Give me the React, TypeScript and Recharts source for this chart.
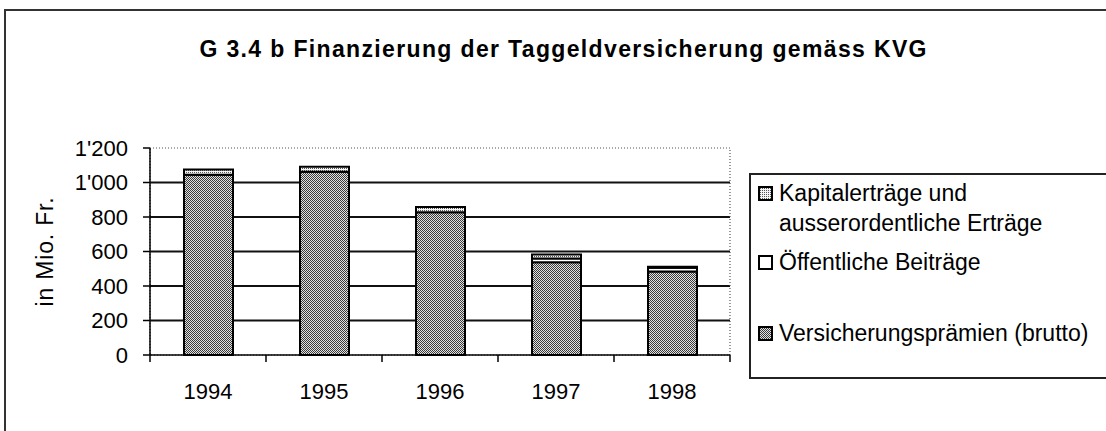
import React from 'react';
import { BarChart, Bar, XAxis, YAxis, CartesianGrid, ReferenceArea, Legend } from 'recharts';

// ---- data ----
const years = ['1994', '1995', '1996', '1997', '1998'];
const premiums = [1045, 1062, 828, 537, 484];
const publicContrib = [0, 0, 0, 22, 22];
const capitalIncome = [31, 30, 30, 24, 6];
const yTicks = [0, 200, 400, 600, 800, 1000, 1200];
const gridValues = [200, 400, 600, 800, 1000];
const nameCapital = 'Kapitalerträge und ausserordentliche Erträge';
const namePublic = 'Öffentliche Beiträge';
const namePremium = 'Versicherungsprämien (brutto)';
const titleText = 'G 3.4 b Finanzierung der Taggeldversicherung gemäss KVG';
const yLabel = 'in Mio. Fr.';

const data = years.map((y, i) => ({
  year: y,
  premium: premiums[i],
  pub: publicContrib[i],
  capital: capitalIncome[i],
}));

// ---- layout ----
const W = 1106;
const H = 431;
const PLOT_LEFT = 150;
const PLOT_RIGHT = 730;
const PLOT_TOP = 148;
const PLOT_BOTTOM = 355;
const BAND = (PLOT_RIGHT - PLOT_LEFT) / years.length;
const FONT = '"Liberation Sans", Arial, Helvetica, sans-serif';

const fmt = (v: number) =>
  v >= 1000 ? `${Math.floor(v / 1000)}'${String(v % 1000).padStart(3, '0')}` : String(v);

const XTick = (props: any) => {
  const { x, y, payload, index } = props;
  const half = BAND / 2;
  return (
    <g>
      <line x1={x - half} y1={y} x2={x - half} y2={y + 7} stroke="#000" strokeWidth={1.5} />
      {index === years.length - 1 && (
        <line x1={x + half} y1={y} x2={x + half} y2={y + 7} stroke="#000" strokeWidth={1.5} />
      )}
      <text x={x} y={y + 28} dy="0.71em" textAnchor="middle" fill="#000" fontSize={22} fontFamily={FONT}>
        {payload.value}
      </text>
    </g>
  );
};

const LegendBox = (props: any) => {
  const payload: any[] = props.payload || [];
  const byKey: Record<string, any> = {};
  payload.forEach((p) => {
    byKey[p.dataKey] = p;
  });
  const items = [
    { key: 'capital', lines: ['Kapitalerträge und', 'ausserordentliche Erträge'], top: 3 },
    { key: 'pub', lines: [namePublic], top: 72 },
    { key: 'premium', lines: [namePremium], top: 143 },
  ];
  return (
    <div
      style={{
        position: 'relative',
        width: 400,
        height: 206,
        boxSizing: 'border-box',
        borderTop: '2px solid #222',
        borderBottom: '2px solid #222',
        borderLeft: '2px solid #222',
        fontFamily: FONT,
        fontSize: 23,
        color: '#000',
        background: '#fff',
      }}
    >
      {items.map((it) => {
        const entry = byKey[it.key];
        const fill = entry ? entry.color : '#fff';
        return (
          <div key={it.key} style={{ position: 'absolute', left: 7, top: it.top, lineHeight: '30px' }}>
            <svg width={15} height={15} style={{ position: 'absolute', left: 0, top: 8 }}>
              <rect x={1} y={1} width={13} height={13} fill={fill} stroke="#000" strokeWidth={2} />
            </svg>
            <div style={{ marginLeft: 21, whiteSpace: 'nowrap' }}>
              {it.lines.map((l, i) => (
                <div key={i}>{l}</div>
              ))}
            </div>
          </div>
        );
      })}
    </div>
  );
};

export default function App() {
  return (
    <div
      style={{
        position: 'absolute',
        left: 0,
        top: 0,
        width: W,
        height: H,
        background: '#fff',
        overflow: 'hidden',
      }}
    >
      {/* frame */}
      <div
        style={{
          position: 'absolute',
          left: 4,
          top: 9,
          width: W,
          height: H,
          borderTop: '2px solid #333',
          borderLeft: '2px solid #333',
        }}
      />
      <svg width={W} height={80} style={{ position: 'absolute', left: 0, top: 0 }}>
        <text
          x={563}
          y={57}
          textAnchor="middle"
          fontFamily={FONT}
          fontWeight="bold"
          fontSize={23}
          fill="#000"
          textLength={727}
          lengthAdjust="spacing"
        >
          {titleText}
        </text>
      </svg>
      <div style={{ position: 'absolute', left: 0, top: 0 }}>
        <BarChart
          width={W}
          height={H}
          data={data}
          margin={{ top: PLOT_TOP, left: 0, right: W - PLOT_RIGHT, bottom: 0 }}
          style={{ fontFamily: FONT }}
        >
          <defs>
            <pattern id="premPat" patternUnits="userSpaceOnUse" width={2} height={2}>
              <rect x={0} y={0} width={2} height={2} fill="#e2e2e2" />
              <rect x={0} y={0} width={1} height={1} fill="#3a3a3a" />
              <rect x={1} y={1} width={1} height={1} fill="#3a3a3a" />
            </pattern>
            <pattern id="capPat" patternUnits="userSpaceOnUse" width={2} height={2}>
              <rect x={0} y={0} width={2} height={2} fill="#f4f4f4" />
              <rect x={0} y={0} width={1} height={1} fill="#555" />
            </pattern>
          </defs>
          <CartesianGrid
            horizontal={true}
            vertical={false}
            horizontalValues={gridValues}
            stroke="#111"
            strokeWidth={1.8}
          />
          <ReferenceArea
            y1={0}
            y2={1200}
            fill="none"
            stroke="#555"
            strokeWidth={1.2}
            strokeDasharray="1 2"
            ifOverflow="visible"
          />
          <XAxis
            dataKey="year"
            height={H - PLOT_BOTTOM}
            tickLine={false}
            tickSize={0}
            tickMargin={0}
            axisLine={{ stroke: '#000', strokeWidth: 1.5 }}
            tick={<XTick />}
            interval={0}
          />
          <YAxis
            width={PLOT_LEFT}
            domain={[0, 1200]}
            ticks={yTicks}
            interval={0}
            tickFormatter={fmt}
            tickSize={7}
            tickMargin={15}
            axisLine={{ stroke: '#000', strokeWidth: 1.5 }}
            tickLine={{ stroke: '#000', strokeWidth: 1.5 }}
            tick={{ fill: '#000', fontSize: 22, fontFamily: FONT }}
            label={{
              value: yLabel,
              content: (p: any) => {
                const vb = p.viewBox || {};
                const cy = (vb.y || PLOT_TOP) + (vb.height || PLOT_BOTTOM - PLOT_TOP) / 2;
                return (
                  <text
                    x={45}
                    y={cy}
                    transform={`rotate(-90, 45, ${cy})`}
                    textAnchor="middle"
                    dominantBaseline="central"
                    fontSize={23}
                    fontFamily={FONT}
                    fill="#000"
                    letterSpacing={0.8}
                  >
                    {yLabel}
                  </text>
                );
              },
            }}
          />
          <Legend
            layout="vertical"
            align="center"
            verticalAlign="middle"
            content={<LegendBox />}
            wrapperStyle={{ position: 'absolute', left: 749, top: 173, width: 400, height: 206 }}
          />
          <Bar
            dataKey="premium"
            name={namePremium}
            stackId="a"
            fill="url(#premPat)"
            stroke="#000"
            strokeWidth={2}
            barSize={49}
            isAnimationActive={false}
          />
          <Bar
            dataKey="pub"
            name={namePublic}
            stackId="a"
            fill="#fff"
            stroke="#000"
            strokeWidth={2}
            barSize={49}
            isAnimationActive={false}
          />
          <Bar
            dataKey="capital"
            name={nameCapital}
            stackId="a"
            fill="url(#capPat)"
            stroke="#000"
            strokeWidth={2}
            barSize={49}
            isAnimationActive={false}
          />
        </BarChart>
      </div>
    </div>
  );
}
